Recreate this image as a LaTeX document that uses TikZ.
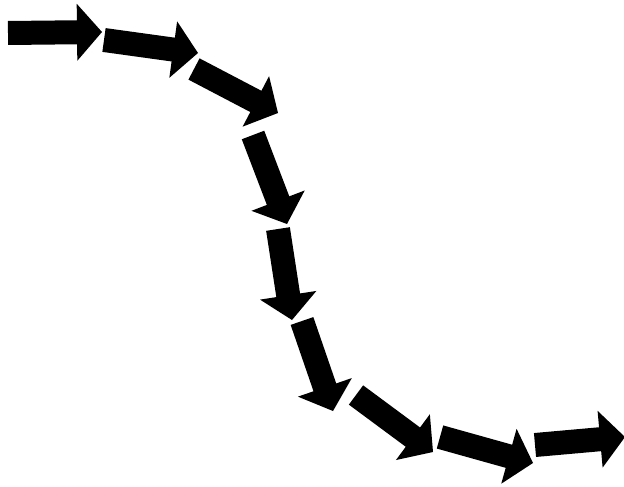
\documentclass[tikz,border=0pt]{standalone}
\usetikzlibrary{calc}
\tikzset{fatarrow/.style={fill=black}}
\newcommand{\fatarrow}[3]{%
  \coordinate (#3) at ($(#2)!25pt!(#1)$);
  \fill[fatarrow] ($(#1)!12pt!-90:(#2)$) -- ($(#3)!12pt!-90:(#2)$) -- ($(#3)!28.5pt!-90:(#2)$) -- (#2)
    -- ($(#3)!28.5pt!90:(#2)$) -- ($(#3)!12pt!90:(#2)$) -- ($(#1)!12pt!90:(#2)$) -- cycle;}
\begin{document}
\begin{tikzpicture}[x=1pt,y=-1pt]
\useasboundingbox (0,0) rectangle (624,487);
\coordinate (t1) at (8,33);    \coordinate (h1) at (102,32);
\coordinate (t2) at (104,40);  \coordinate (h2) at (198,53);
\coordinate (t3) at (194,69);  \coordinate (h3) at (278,113);
\coordinate (t4) at (253,135); \coordinate (h4) at (287,224);
\coordinate (t5) at (278,229); \coordinate (h5) at (292,320);
\coordinate (t6) at (302,321); \coordinate (h6) at (333,411);
\coordinate (t7) at (356,395); \coordinate (h7) at (433,452);
\coordinate (t8) at (440,437); \coordinate (h8) at (533,463);
\coordinate (t9) at (535,445); \coordinate (h9) at (625,437);
\fatarrow{t1}{h1}{b1}
\fatarrow{t2}{h2}{b2}
\fatarrow{t3}{h3}{b3}
\fatarrow{t4}{h4}{b4}
\fatarrow{t5}{h5}{b5}
\fatarrow{t6}{h6}{b6}
\fatarrow{t7}{h7}{b7}
\fatarrow{t8}{h8}{b8}
\fatarrow{t9}{h9}{b9}
\end{tikzpicture}
\end{document}
